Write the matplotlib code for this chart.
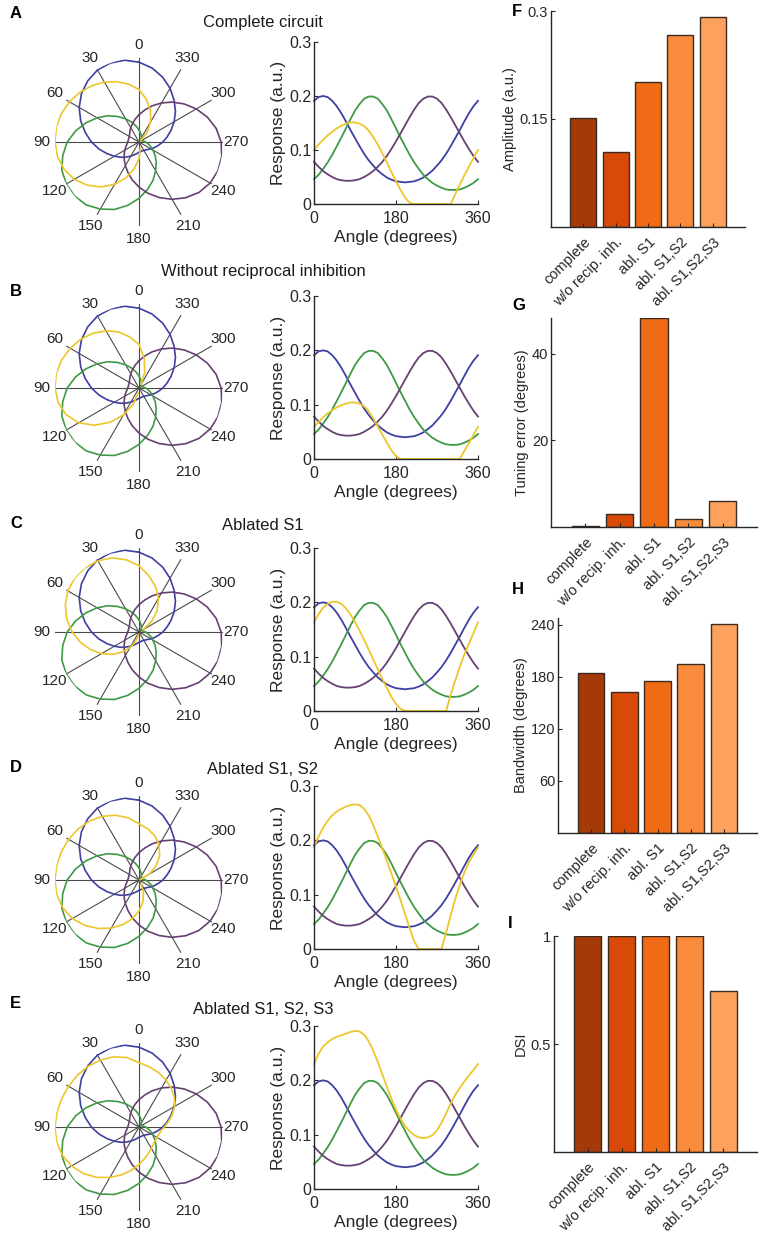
import numpy as np
import matplotlib.pyplot as plt

plt.rcParams['font.family'] = ['Liberation Sans', 'DejaVu Sans']

# ─────────────────────────────────────────────
# DATOS
# ─────────────────────────────────────────────
angles = np.arange(0, 361, 10)

blue_resp = [0.191, 0.198, 0.200, 0.198, 0.191, 0.181, 0.168, 0.153, 0.137, 0.122,
             0.107, 0.093, 0.081, 0.071, 0.062, 0.055, 0.049, 0.045, 0.042, 0.041,
             0.040, 0.041, 0.042, 0.045, 0.049, 0.055, 0.062, 0.071, 0.081, 0.093,
             0.107, 0.122, 0.137, 0.153, 0.168, 0.181, 0.191]
green_resp = [0.046, 0.054, 0.065, 0.077, 0.091, 0.107, 0.123, 0.140, 0.157, 0.173,
              0.185, 0.195, 0.199, 0.199, 0.195, 0.185, 0.173, 0.157, 0.140, 0.123,
              0.107, 0.091, 0.077, 0.065, 0.054, 0.046, 0.039, 0.034, 0.030, 0.027,
              0.026, 0.026, 0.027, 0.030, 0.034, 0.039, 0.046]
purple_resp = [0.078, 0.069, 0.061, 0.055, 0.050, 0.046, 0.044, 0.043, 0.043, 0.044,
               0.046, 0.050, 0.055, 0.061, 0.069, 0.078, 0.089, 0.102, 0.116, 0.131,
               0.146, 0.161, 0.175, 0.187, 0.195, 0.199, 0.199, 0.195, 0.187, 0.175,
               0.161, 0.146, 0.131, 0.116, 0.102, 0.089, 0.078]

yellow_complete = [0.100, 0.110, 0.119, 0.127, 0.134, 0.140, 0.145, 0.149, 0.151, 0.151,
                   0.149, 0.144, 0.136, 0.124, 0.110, 0.094, 0.077, 0.059, 0.042, 0.026,
                   0.012, 0.002, 0.0, 0.0, 0.0, 0.0, 0.0, 0.0, 0.0, 0.0,
                   0.0, 0.018, 0.036, 0.053, 0.069, 0.085, 0.100]
yellow_no_recip = [0.059, 0.068, 0.077, 0.084, 0.090, 0.095, 0.099, 0.102, 0.104, 0.104,
                   0.102, 0.097, 0.088, 0.075, 0.060, 0.045, 0.030, 0.016, 0.005, 0.0,
                   0.0, 0.0, 0.0, 0.0, 0.0, 0.0, 0.0, 0.0, 0.0, 0.0,
                   0.0, 0.0, 0.0, 0.015, 0.029, 0.044, 0.059]
yellow_abl_s1 = [0.163, 0.178, 0.190, 0.197, 0.201, 0.201, 0.197, 0.189, 0.178, 0.164,
                 0.148, 0.131, 0.113, 0.095, 0.077, 0.059, 0.042, 0.026, 0.013, 0.004,
                 0.0, 0.0, 0.0, 0.0, 0.0, 0.0, 0.0, 0.0, 0.0, 0.0,
                 0.030, 0.056, 0.081, 0.104, 0.124, 0.143, 0.163]
yellow_abl_s1s2 = [0.187, 0.207, 0.223, 0.236, 0.246, 0.253, 0.258, 0.262, 0.265, 0.266,
                   0.265, 0.258, 0.246, 0.228, 0.207, 0.185, 0.162, 0.139, 0.115, 0.090,
                   0.064, 0.038, 0.014, 0.0, 0.0, 0.0, 0.0, 0.0, 0.0, 0.030,
                   0.062, 0.092, 0.118, 0.141, 0.160, 0.174, 0.187]
yellow_abl_s1s2s3 = [0.230, 0.249, 0.262, 0.270, 0.276, 0.280, 0.283, 0.286, 0.289, 0.291,
                     0.290, 0.284, 0.272, 0.255, 0.234, 0.211, 0.188, 0.166, 0.146, 0.129,
                     0.116, 0.106, 0.099, 0.095, 0.094, 0.095, 0.099, 0.108, 0.122, 0.139,
                     0.157, 0.173, 0.186, 0.198, 0.209, 0.219, 0.230]

titles = ['Complete circuit', 'Without reciprocal inhibition', 'Ablated S1',
          'Ablated S1, S2', 'Ablated S1, S2, S3']
yellow_sets = [yellow_complete, yellow_no_recip, yellow_abl_s1,
               yellow_abl_s1s2, yellow_abl_s1s2s3]

conditions = ['complete', 'w/o recip. inh.', 'abl. S1', 'abl. S1,S2', 'abl. S1,S2,S3']
amplitude = [0.151, 0.104, 0.201, 0.266, 0.291]
tuning_error = [0.2, 3.0, 48.2, 1.9, 5.9]
bandwidth = [184, 163, 175, 195, 241]
dsi = [1.0, 1.0, 1.0, 1.0, 0.745]

# ─────────────────────────────────────────────
# ESTILO
# ─────────────────────────────────────────────
C_BLUE = '#3d3fa3'
C_GREEN = '#3f9a45'
C_PURPLE = '#674072'
C_YELLOW = '#ecc62a'
BAR_COLORS = ['#a4390a', '#d84a08', '#ef6b16', '#f98c3c', '#fda25c']
AX_COLOR = '#262626'

W, H = 762, 1239
fig = plt.figure(figsize=(W / 100, H / 100), dpi=100)


def px_axes(x0, y0, x1, y1, **kw):
    """Crea ejes a partir de coordenadas en píxeles (origen arriba-izquierda)."""
    return fig.add_axes([x0 / W, 1 - y1 / H, (x1 - x0) / W, (y1 - y0) / H], **kw)


def style_axes(ax):
    ax.spines['top'].set_visible(False)
    ax.spines['right'].set_visible(False)
    for s in ('left', 'bottom'):
        ax.spines[s].set_color(AX_COLOR)
        ax.spines[s].set_linewidth(1.0)
    ax.tick_params(direction='in', length=3, color=AX_COLOR, labelcolor=AX_COLOR)


# filas: (y centro polar, y superior ejes, y inferior ejes, y título, y letra, letra)
rows = [
    (142, 42, 204, 22, 13, 'A'),
    (388, 296, 459, 271, 292, 'B'),
    (632, 548, 711, 525, 523, 'C'),
    (880, 786, 949, 770, 768, 'D'),
    (1127, 1026, 1189, 1010, 1003, 'E'),
]

R = 84
theta = np.deg2rad(angles)
for (cy, top, bot, ty, ly, letter), title, yel in zip(rows, titles, yellow_sets):
    # ---- polar (cada curva normalizada a su máximo) ----
    cx = 139
    axp = px_axes(cx - R, cy - R, cx + R, cy + R, projection='polar')
    axp.set_theta_zero_location('N')
    axp.set_theta_direction(1)
    axp.patch.set_alpha(0)
    axp.spines['polar'].set_visible(False)
    for resp, col in [(blue_resp, C_BLUE), (green_resp, C_GREEN),
                      (purple_resp, C_PURPLE), (yel, C_YELLOW)]:
        r = np.array(resp)
        axp.plot(theta, r / r.max(), color=col, lw=1.2, zorder=3)
    axp.set_ylim(0.1, 1)
    axp.set_yticks([])
    axp.set_thetagrids(np.arange(0, 360, 30), [str(a) for a in range(0, 360, 30)],
                       fontsize=11, color=AX_COLOR)
    axp.xaxis.grid(True, color='#4a4a4a', lw=0.8)
    axp.tick_params(axis='x', pad=-1)

    # ---- respuesta vs ángulo ----
    ax = px_axes(314, top, 478, bot)
    ax.plot(angles, blue_resp, color=C_BLUE, lw=1.3, clip_on=False)
    ax.plot(angles, green_resp, color=C_GREEN, lw=1.3, clip_on=False)
    ax.plot(angles, purple_resp, color=C_PURPLE, lw=1.3, clip_on=False)
    ax.plot(angles, yel, color=C_YELLOW, lw=1.3, clip_on=False)
    ax.set_xlim(0, 360)
    ax.set_ylim(0, 0.3)
    ax.set_xticks([0, 180, 360])
    ax.set_yticks([0, 0.1, 0.2, 0.3])
    ax.set_yticklabels(['0', '0.1', '0.2', '0.3'])
    style_axes(ax)
    ax.tick_params(labelsize=11.5, pad=2)
    ax.tick_params(axis='x', pad=5)
    ax.set_xlabel('Angle (degrees)', fontsize=12.5, color=AX_COLOR, labelpad=3)
    ax.set_ylabel('Response (a.u.)', fontsize=12.5, color=AX_COLOR, labelpad=2)

    fig.text(263 / W, 1 - ty / H, title, ha='center', va='center',
             fontsize=12, color='#1a1a1a')
    fig.text(10 / W, 1 - ly / H, letter, ha='left', va='center',
             fontsize=12, fontweight='bold')

# ─────────────────────────────────────────────
# BARRAS F-I
# ─────────────────────────────────────────────
bar_panels = [
    ((551, 11, 745, 227), amplitude, 'Amplitude (a.u.)', (0, 0.3), [0.15, 0.3],
     ['0.15', '0.3'], 'F', (512, 11)),
    ((551, 318, 757, 527), tuning_error, 'Tuning error (degrees)', (0, 48.3), [20, 40],
     ['20', '40'], 'G', (512, 305)),
    ((558, 618, 757, 833), bandwidth, 'Bandwidth (degrees)', (0, 248),
     [60, 120, 180, 240], ['60', '120', '180', '240'], 'H', (512, 590)),
    ((554, 936, 757, 1152), dsi, 'DSI', (0, 1), [0.5, 1], ['0.5', '1'], 'I', (508, 923)),
]

xpos = np.arange(1, len(conditions) + 1)
for box, vals, ylabel, ylim, yt, ytl, letter, lpos in bar_panels:
    ax = px_axes(*box)
    ax.bar(xpos, vals, width=0.8, color=BAR_COLORS, edgecolor='#3a2a20', linewidth=1.0)
    ax.set_xlim(0, 6)
    ax.set_ylim(*ylim)
    ax.set_yticks(yt)
    ax.set_yticklabels(ytl)
    ax.set_xticks(xpos)
    ax.set_xticklabels(conditions, rotation=45, ha='right', rotation_mode='anchor')
    style_axes(ax)
    ax.tick_params(labelsize=10.5, pad=2)
    ax.tick_params(axis='x', pad=6)
    ax.set_ylabel(ylabel, fontsize=10.5, color=AX_COLOR, labelpad=2)
    fig.text(lpos[0] / W, 1 - lpos[1] / H, letter, ha='left', va='center',
             fontsize=12, fontweight='bold')

fig.savefig('out.png', dpi=100)
